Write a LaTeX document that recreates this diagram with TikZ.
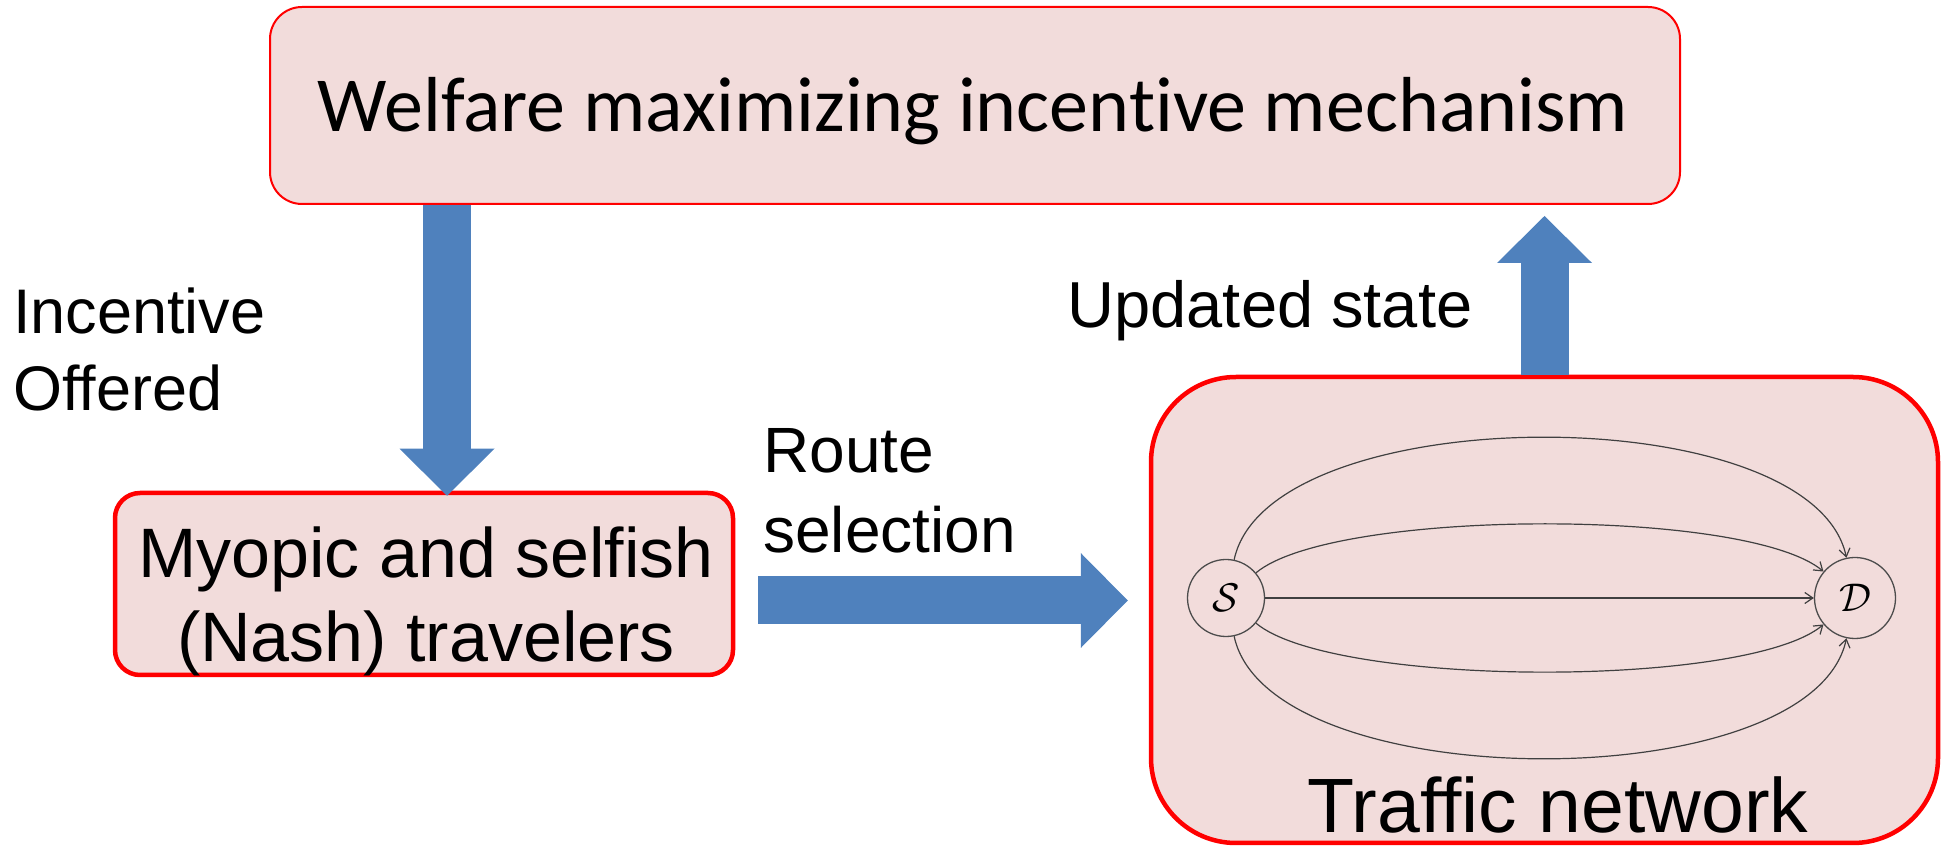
\RequirePackage{fix-cm}
\documentclass[tikz,border=0pt]{standalone}
\usepackage{fontspec}
\newfontfamily\calibri[Ligatures=CommonOff]{Carlito}
\newfontfamily\arial[Ligatures=CommonOff]{Liberation Sans}
\usetikzlibrary{arrows.meta,calc}
\definecolor{boxpink}{HTML}{F2DCDB}
\definecolor{boxred}{HTML}{FF0000}
\definecolor{flowblue}{HTML}{4F81BD}
\tikzset{
  panel/.style={rectangle, draw=boxred, fill=boxpink, inner sep=0pt},
  flow/.style={draw=flowblue, line width=48pt,
    -{Triangle[length=47pt,width=95pt,line width=0pt]}},
  place/.style={circle, draw=black!70, line width=1.3pt, fill=boxpink,
    inner sep=0pt, font=\fontsize{40}{40}\selectfont},
  route/.style={draw=black!75, line width=1.2pt,
    -{Straight Barb[length=8pt,width=11pt]}},
  lbl/.style={inner sep=0pt, align=left, font=\arial\fontsize{64}{80}\selectfont},
}
\begin{document}
\begin{tikzpicture}[x=1pt,y=1pt]
\useasboundingbox (0,0) rectangle (1941,846);

% three blocks of the loop
\node[panel, line width=2pt, rounded corners=32pt,
      minimum width=1410pt, minimum height=197pt] (mech) at (975,740.5) {};
\node[panel, line width=4.5pt, rounded corners=25pt,
      minimum width=618pt, minimum height=182pt] (my) at (424,262) {};
\node[panel, line width=4.5pt, rounded corners=85pt,
      minimum width=787pt, minimum height=466pt] (traffic) at (1544.5,236) {};

\node[inner sep=0pt, anchor=base, font=\calibri\fontsize{78}{94}\selectfont]
  (mechtxt) at (973,714) {Welfare maximizing incentive mechanism};
\node[inner sep=0pt, anchor=north, align=center, font=\arial\fontsize{70}{84}\selectfont]
  (mytxt) at (426,319) {Myopic and selfish\\(Nash) travelers};
\node[inner sep=0pt, anchor=base, font=\arial\fontsize{77}{90}\selectfont]
  (trtxt) at (1558,13) {Traffic network};

% source, destination and the parallel routes
\node[place, minimum size=77pt] (S) at (1226,248) {$\mathcal{S}$};
\node[place, minimum size=81pt] (D) at (1855,248) {$\mathcal{D}$};
\draw[route] (S) to[out=78,in=102,looseness=0.69] (D);
\draw[route] (S) to[out=40,in=140,looseness=0.45] (D);
\draw[route] (S) -- (D);
\draw[route] (S) to[out=-40,in=-140,looseness=0.45] (D);
\draw[route] (S) to[out=-78,in=-102,looseness=0.69] (D);

% block arrows between the blocks
\coordinate (offerTip) at ([xshift=23pt,yshift=-5pt]my.north);
\draw[flow] (mech.south -| offerTip) -- (offerTip);
\draw[flow] ([xshift=23pt,yshift=-16.5pt]my.east) -- ([xshift=-21pt,yshift=9.5pt]traffic.west);
\draw[flow] (traffic.north) -- ([yshift=-11pt]mech.south -| traffic.north);

% arrow labels
\node[lbl, anchor=north west, font=\arial\fontsize{63}{77}\selectfont]
  (offer) at (13,558) {Incentive\\Offered};
\node[lbl, anchor=north west] (sel) at (763,418) {Route\\selection};
\node[inner sep=0pt, anchor=base, font=\arial\fontsize{65}{78}\selectfont]
  (upd) at (1270,518) {Updated state};
\end{tikzpicture}
\end{document}
